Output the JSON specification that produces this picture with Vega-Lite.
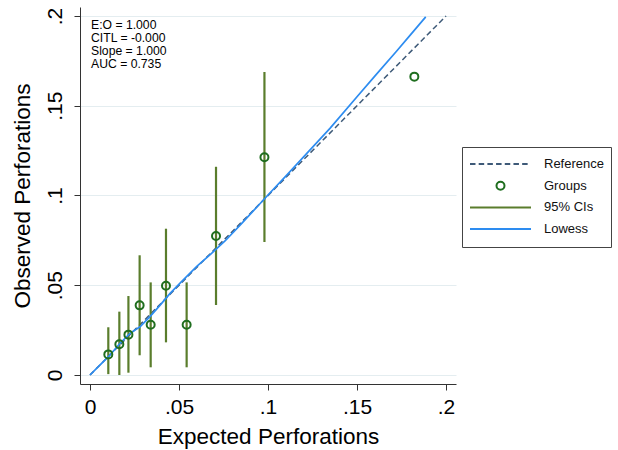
{
  "$schema": "https://vega.github.io/schema/vega-lite/v6.json",
  "autosize": {"type": "none"},
  "width": 376,
  "height": 377,
  "padding": {"left": 80, "top": 7, "right": 162, "bottom": 66},
  "background": "white",
  "config": {
    "view": {"stroke": null},
    "font": "Liberation Sans",
    "axis": {
      "domainColor": "#333333",
      "tickColor": "#333333",
      "labelFont": "Liberation Sans",
      "titleFont": "Liberation Sans",
      "labelFontSize": 21,
      "titleFontSize": 22.5,
      "titleFontWeight": "normal",
      "labelColor": "#000000",
      "titleColor": "#000000",
      "tickSize": 6,
      "grid": false
    },
    "legend": {
      "title": null,
      "orient": "none",
      "legendX": 382,
      "legendY": 140,
      "padding": 7,
      "strokeColor": "#444444",
      "fillColor": "white",
      "symbolSize": 3721,
      "symbolStrokeWidth": 2,
      "clipHeight": 20,
      "rowPadding": 1.7,
      "labelFontSize": 13,
      "labelFont": "Liberation Sans",
      "labelColor": "#111111",
      "labelOffset": 12,
      "labelLimit": 200
    }
  },
  "datasets": {
    "groups": [
      {"x": 0.0103, "y": 0.0115, "lo": 0.0005, "hi": 0.0266, "series": "Groups"},
      {"x": 0.0165, "y": 0.0171, "lo": 0.0, "hi": 0.0353, "series": "Groups"},
      {"x": 0.0216, "y": 0.0225, "lo": 0.0013, "hi": 0.044, "series": "Groups"},
      {"x": 0.0279, "y": 0.0388, "lo": 0.011, "hi": 0.0667, "series": "Groups"},
      {"x": 0.0341, "y": 0.028, "lo": 0.0043, "hi": 0.0516, "series": "Groups"},
      {"x": 0.0427, "y": 0.0497, "lo": 0.0182, "hi": 0.0815, "series": "Groups"},
      {"x": 0.0543, "y": 0.028, "lo": 0.0043, "hi": 0.0516, "series": "Groups"},
      {"x": 0.0708, "y": 0.0774, "lo": 0.039, "hi": 0.116, "series": "Groups"},
      {"x": 0.098, "y": 0.1213, "lo": 0.0741, "hi": 0.1688, "series": "Groups"},
      {"x": 0.1822, "y": 0.1662, "lo": null, "hi": null, "series": "Groups"}
    ],
    "reference": [
      {"x": 0, "y": 0},
      {"x": 0.2, "y": 0.2}
    ],
    "lowess": [
      {"x": 0.0, "y": 0.0},
      {"x": 0.005, "y": 0.005},
      {"x": 0.0112, "y": 0.0111},
      {"x": 0.0169, "y": 0.0177},
      {"x": 0.0225, "y": 0.0232},
      {"x": 0.0281, "y": 0.0269},
      {"x": 0.0337, "y": 0.0325},
      {"x": 0.0393, "y": 0.0388},
      {"x": 0.045, "y": 0.0455},
      {"x": 0.0506, "y": 0.0512},
      {"x": 0.06, "y": 0.0605},
      {"x": 0.068, "y": 0.0675},
      {"x": 0.076, "y": 0.0748},
      {"x": 0.085, "y": 0.0842},
      {"x": 0.092, "y": 0.0917},
      {"x": 0.1, "y": 0.1003},
      {"x": 0.11, "y": 0.1108},
      {"x": 0.12, "y": 0.1215},
      {"x": 0.1348, "y": 0.1374},
      {"x": 0.15, "y": 0.155},
      {"x": 0.16, "y": 0.1665},
      {"x": 0.1723, "y": 0.1805},
      {"x": 0.18, "y": 0.1895},
      {"x": 0.1886, "y": 0.1995}
    ],
    "stats": [
      {"x": 0.0006, "y": 0.1928, "label": "E:O = 1.000"},
      {"x": 0.0006, "y": 0.1856, "label": "CITL = -0.000"},
      {"x": 0.0006, "y": 0.1784, "label": "Slope = 1.000"},
      {"x": 0.0006, "y": 0.1712, "label": "AUC = 0.735"}
    ]
  },
  "layer": [
    {
      "data": {"name": "reference"},
      "mark": {"type": "line", "color": "#3e5a78", "strokeWidth": 1.5, "strokeDash": [5.5, 3.2]},
      "encoding": {
        "x": {
          "field": "x", "type": "quantitative",
          "scale": {"domain": [-0.0056, 0.2056], "nice": false, "zero": false},
          "axis": {
            "values": [0, 0.05, 0.1, 0.15, 0.2],
            "labelExpr": "datum.value == 0 ? '0' : replace(format(datum.value, '.2~f'), '0.', '.')",
            "title": "Expected Perforations",
            "labelPadding": 6,
            "titlePadding": 8,
            "labelFlush": false
          }
        },
        "y": {
          "field": "y", "type": "quantitative",
          "scale": {"domain": [-0.005, 0.205], "nice": false, "zero": false},
          "axis": {
            "values": [0, 0.05, 0.1, 0.15, 0.2],
            "labelExpr": "datum.value == 0 ? '0' : replace(format(datum.value, '.2~f'), '0.', '.')",
            "title": "Observed Perforations",
            "grid": true,
            "gridColor": "#e4edf0",
            "gridWidth": 1,
            "labelAngle": -90,
            "labelAlign": "center",
            "labelBaseline": "bottom",
            "labelPadding": 9,
            "titlePadding": 10,
            "labelFlush": false
          }
        }
      }
    },
    {
      "data": {"name": "groups"},
      "transform": [{"filter": "datum.lo != null"}],
      "mark": {"type": "rule", "color": "#5a7d2c", "strokeWidth": 2.2},
      "encoding": {
        "x": {"field": "x", "type": "quantitative", "scale": {"domain": [-0.0056, 0.2056], "nice": false, "zero": false}},
        "y": {"field": "lo", "type": "quantitative", "scale": {"domain": [-0.005, 0.205], "nice": false, "zero": false}},
        "y2": {"field": "hi"}
      }
    },
    {
      "data": {"name": "lowess"},
      "mark": {"type": "line", "color": "#2d8cf0", "strokeWidth": 1.7},
      "encoding": {
        "x": {"field": "x", "type": "quantitative", "scale": {"domain": [-0.0056, 0.2056], "nice": false, "zero": false}},
        "y": {"field": "y", "type": "quantitative", "scale": {"domain": [-0.005, 0.205], "nice": false, "zero": false}}
      }
    },
    {
      "data": {"name": "groups"},
      "mark": {"type": "point", "filled": false, "size": 3721, "strokeWidth": 2, "opacity": 1},
      "encoding": {
        "x": {"field": "x", "type": "quantitative", "scale": {"domain": [-0.0056, 0.2056], "nice": false, "zero": false}},
        "y": {"field": "y", "type": "quantitative", "scale": {"domain": [-0.005, 0.205], "nice": false, "zero": false}},
        "color": {
          "field": "series", "type": "nominal",
          "scale": {"domain": ["Reference", "Groups", "95% CIs", "Lowess"], "range": ["#3e5a78", "#1f6e1f", "#5a7d2c", "#2d8cf0"]},
          "legend": {"title": null}
        },
        "shape": {
          "field": "series", "type": "nominal",
          "scale": {
            "domain": ["Reference", "Groups", "95% CIs", "Lowess"],
            "range": [
              "M-1,0H-0.82M-0.715,0H-0.535M-0.43,0H-0.25M-0.145,0H0.035M0.14,0H0.32M0.425,0H0.605M0.71,0H0.89",
              "M0.131,0A0.131,0.131 0 1,1 -0.131,0A0.131,0.131 0 1,1 0.131,0Z",
              "stroke",
              "stroke"
            ]
          },
          "legend": {"title": null}
        }
      }
    },
    {
      "data": {"name": "stats"},
      "mark": {"type": "text", "align": "left", "baseline": "alphabetic", "fontSize": 12.2, "font": "Liberation Sans", "color": "#000000"},
      "encoding": {
        "x": {"field": "x", "type": "quantitative", "scale": {"domain": [-0.0056, 0.2056], "nice": false, "zero": false}},
        "y": {"field": "y", "type": "quantitative", "scale": {"domain": [-0.005, 0.205], "nice": false, "zero": false}},
        "text": {"field": "label"}
      }
    }
  ]
}
